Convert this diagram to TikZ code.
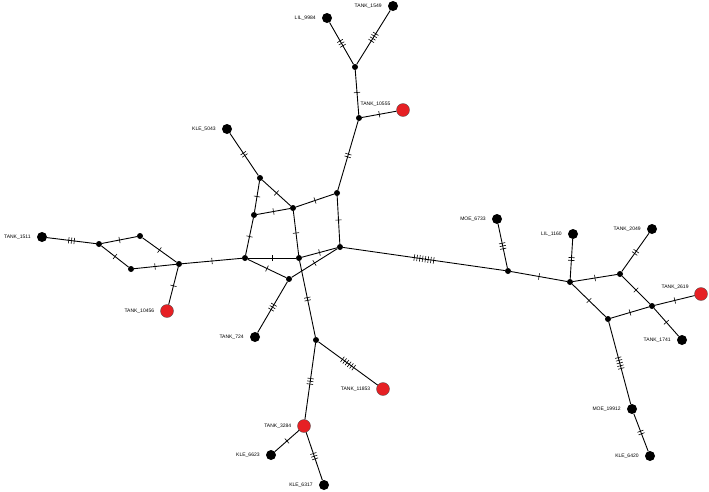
\documentclass[tikz,border=0pt]{standalone}
\usepackage{fontspec}
\setsansfont{Liberation Sans}
\usepackage{tikz}
\usetikzlibrary{decorations.markings}

\definecolor{hapred}{RGB}{230,32,36}

\begin{document}
\begin{tikzpicture}[
            x=1pt, y=-1pt,
            every node/.style={font=\sffamily\fontsize{5}{6}\selectfont},
            label distance=5pt,
            hap/.style={circle, fill=black, minimum size=10pt, inner sep=0pt},
            hapr/.style={circle, draw=black!70, line width=0.3pt, fill=hapred, minimum size=13pt, inner sep=0pt},
            med/.style={circle, fill=black, minimum size=6pt, inner sep=0pt},
            lbl/.style={inner sep=1pt},
            mut/.style={line width=0.9pt, postaction={decorate}, decoration={markings,
                mark=at position 0.5 with {
                    \foreach \t in {1,...,#1} {
                        \pgfmathsetmacro\tx{(\t-(#1+1)/2)*2.8}
                        \draw[line width=0.6pt] (\tx pt,-3.2pt) -- (\tx pt,3.2pt);
                    }
                }}}
        ]

        \useasboundingbox (0,0) rectangle (709,491);

        \node[hap, label={[lbl]left:TANK\_1549}] (t1549) at (393,6) {};
        \node[hap, label={[lbl]left:LIL\_9984}] (l9984) at (327,18) {};
        \node[med] (j1) at (355,67) {};
        \node[med] (j2) at (359,118) {};
        \node[hapr, label={[lbl]170:TANK\_10555}] (t10555) at (403,110) {};
        \node[hap, label={[lbl]left:KLE\_5043}] (k5043) at (227,129) {};

        \node[med] (a) at (260,178) {};
        \node[med] (b) at (293,208) {};
        \node[med] (c) at (337,193) {};
        \node[med] (d) at (254,215) {};
        \node[med] (e) at (245,258) {};
        \node[med] (f) at (299,258) {};
        \node[med] (g) at (340,247) {};
        \node[med] (h) at (289,279) {};

        \node[hap, label={[lbl]left:TANK\_1511}] (t1511) at (42,237) {};
        \node[med] (l1) at (99,244) {};
        \node[med] (l2) at (140,236) {};
        \node[med] (l3) at (131,269) {};
        \node[med] (l4) at (179,264) {};
        \node[hapr, label={[lbl]left:TANK\_10456}] (t10456) at (167,311) {};

        \node[hap, label={[lbl]left:TANK\_724}] (t724) at (255,337) {};
        \node[med] (k) at (316,340) {};
        \node[hapr, label={[lbl]left:TANK\_11853}] (t11853) at (383,389) {};
        \node[hapr, label={[lbl]left:TANK\_3284}] (t3284) at (304,426) {};
        \node[hap, label={[lbl]left:KLE\_6623}] (k6623) at (271,455) {};
        \node[hap, label={[lbl]left:KLE\_6317}] (k6317) at (324,485) {};

        \node[med] (m1) at (508,271) {};
        \node[hap, label={[lbl]left:MOE\_6733}] (m6733) at (497,219) {};
        \node[med] (m2) at (570,282) {};
        \node[hap, label={[lbl]left:LIL\_1160}] (l1160) at (573,234) {};
        \node[med] (m3) at (620,274) {};
        \node[hap, label={[lbl]left:TANK\_2049}] (t2049) at (652,229) {};
        \node[med] (m4) at (652,306) {};
        \node[hapr, label={[lbl]165:TANK\_2619}] (t2619) at (701,294) {};
        \node[med] (m5) at (608,319) {};
        \node[hap, label={[lbl]left:TANK\_1741}] (t1741) at (682,340) {};
        \node[hap, label={[lbl]left:MOE\_19912}] (m19912) at (632,409) {};
        \node[hap, label={[lbl]left:KLE\_6420}] (k6420) at (650,456) {};

        \draw[mut=4] (t1549) -- (j1);
        \draw[mut=3] (l9984) -- (j1);
        \draw[mut=1] (j1) -- (j2);
        \draw[mut=1] (j2) -- (t10555);
        \draw[mut=2] (j2) -- (c);
        \draw[mut=2] (k5043) -- (a);

        \draw[mut=1] (a) -- (b);
        \draw[mut=1] (a) -- (d);
        \draw[mut=1] (d) -- (b);
        \draw[mut=1] (b) -- (c);
        \draw[mut=1] (c) -- (g);
        \draw[mut=1] (d) -- (e);
        \draw[mut=1] (e) -- (f);
        \draw[mut=1] (f) -- (g);
        \draw[mut=1] (e) -- (h);
        \draw[mut=1] (h) -- (g);
        \draw[mut=1] (b) -- (f);
        \draw[mut=2] (f) -- (k);

        \draw[mut=3] (t1511) -- (l1);
        \draw[mut=1] (l1) -- (l2);
        \draw[mut=1] (l1) -- (l3);
        \draw[mut=1] (l2) -- (l4);
        \draw[mut=1] (l3) -- (l4);
        \draw[mut=1] (l4) -- (t10456);
        \draw[mut=1] (l4) -- (e);

        \draw[mut=3] (h) -- (t724);
        \draw[mut=6] (k) -- (t11853);
        \draw[mut=3] (k) -- (t3284);
        \draw[mut=1] (t3284) -- (k6623);
        \draw[mut=3] (t3284) -- (k6317);

        \draw[mut=8] (g) -- (m1);
        \draw[mut=3] (m6733) -- (m1);
        \draw[mut=1] (m1) -- (m2);
        \draw[mut=2] (l1160) -- (m2);
        \draw[mut=1] (m2) -- (m3);
        \draw[mut=2] (m3) -- (t2049);
        \draw[mut=1] (m3) -- (m4);
        \draw[mut=1] (m2) -- (m5);
        \draw[mut=1] (m5) -- (m4);
        \draw[mut=1] (m4) -- (t2619);
        \draw[mut=1] (m4) -- (t1741);
        \draw[mut=5] (m5) -- (m19912);
        \draw[mut=2] (m19912) -- (k6420);

    \end{tikzpicture}
\end{document}
